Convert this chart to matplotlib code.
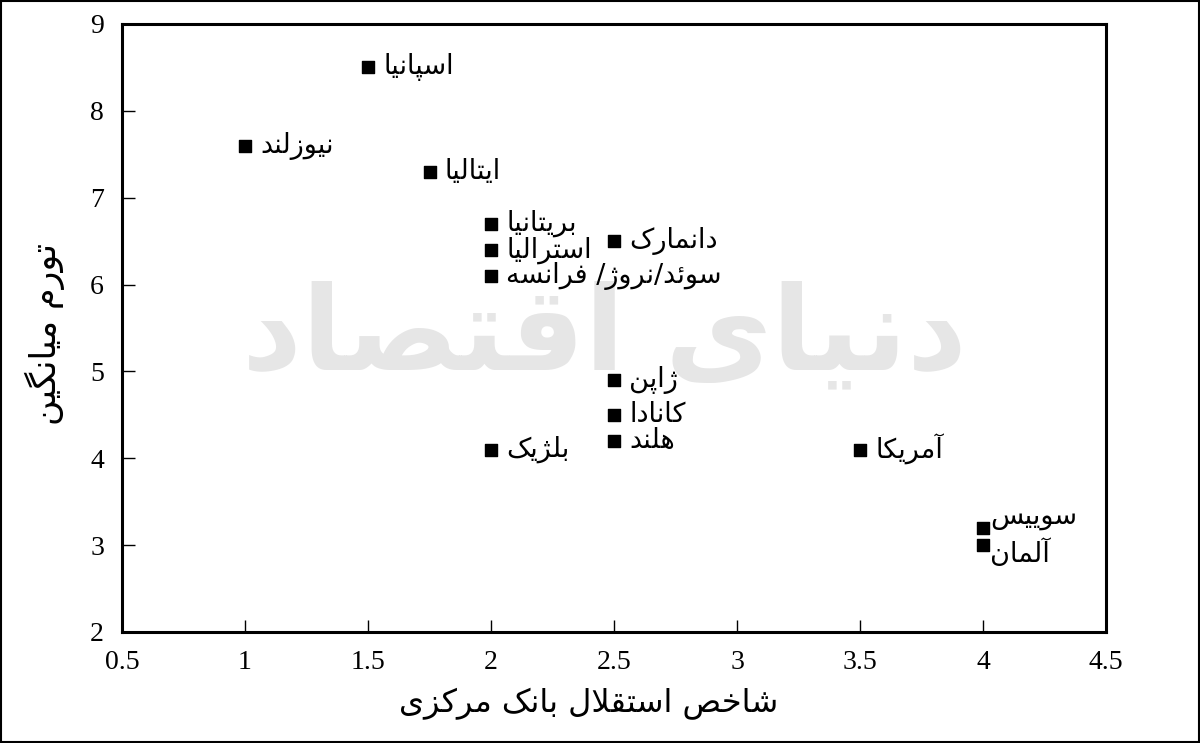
import matplotlib
matplotlib.use("Agg")
import matplotlib.pyplot as plt
from matplotlib.patches import Rectangle

# ---------------- data ----------------
countries = ["اسپانیا", "نیوزلند", "ایتالیا", "بریتانیا", "استرالیا",
             "سوئد/نروژ/ فرانسه", "دانمارک", "ژاپن", "کانادا", "هلند",
             "بلژیک", "آمریکا", "سوییس", "آلمان"]
independence = [1.5, 1.0, 1.75, 2.0, 2.0, 2.0, 2.5, 2.5, 2.5, 2.5, 2.0, 3.5, 4.0, 4.0]
inflation = [8.5, 7.6, 7.3, 6.7, 6.4, 6.1, 6.5, 4.9, 4.5, 4.2, 4.1, 4.1, 3.2, 3.0]
x_ticks = [0.5, 1, 1.5, 2, 2.5, 3, 3.5, 4, 4.5]
x_ticklabels = ["0.5", "1", "1.5", "2", "2.5", "3", "3.5", "4", "4.5"]
y_ticks = [2, 3, 4, 5, 6, 7, 8, 9]
x_label = "شاخص استقلال بانک مرکزی"
y_label = "تورم میانگین"
watermark = "دنیای اقتصاد"

# ---------------- simple Persian shaper ----------------
FORMS = {
    'ا': (0xFE8D, 0xFE8E), 'آ': (0xFE81, 0xFE82),
    'ب': (0xFE8F, 0xFE90, 0xFE91, 0xFE92), 'پ': (0xFB56, 0xFB57, 0xFB58, 0xFB59),
    'ت': (0xFE95, 0xFE96, 0xFE97, 0xFE98), 'ث': (0xFE99, 0xFE9A, 0xFE9B, 0xFE9C),
    'ج': (0xFE9D, 0xFE9E, 0xFE9F, 0xFEA0), 'چ': (0xFB7A, 0xFB7B, 0xFB7C, 0xFB7D),
    'ح': (0xFEA1, 0xFEA2, 0xFEA3, 0xFEA4), 'خ': (0xFEA5, 0xFEA6, 0xFEA7, 0xFEA8),
    'د': (0xFEA9, 0xFEAA), 'ذ': (0xFEAB, 0xFEAC), 'ر': (0xFEAD, 0xFEAE),
    'ز': (0xFEAF, 0xFEB0), 'ژ': (0xFB8A, 0xFB8B),
    'س': (0xFEB1, 0xFEB2, 0xFEB3, 0xFEB4), 'ش': (0xFEB5, 0xFEB6, 0xFEB7, 0xFEB8),
    'ص': (0xFEB9, 0xFEBA, 0xFEBB, 0xFEBC), 'ض': (0xFEBD, 0xFEBE, 0xFEBF, 0xFEC0),
    'ط': (0xFEC1, 0xFEC2, 0xFEC3, 0xFEC4), 'ظ': (0xFEC5, 0xFEC6, 0xFEC7, 0xFEC8),
    'ع': (0xFEC9, 0xFECA, 0xFECB, 0xFECC), 'غ': (0xFECD, 0xFECE, 0xFECF, 0xFED0),
    'ف': (0xFED1, 0xFED2, 0xFED3, 0xFED4), 'ق': (0xFED5, 0xFED6, 0xFED7, 0xFED8),
    'ک': (0xFB8E, 0xFB8F, 0xFB90, 0xFB91), 'گ': (0xFB92, 0xFB93, 0xFB94, 0xFB95),
    'ل': (0xFEDD, 0xFEDE, 0xFEDF, 0xFEE0), 'م': (0xFEE1, 0xFEE2, 0xFEE3, 0xFEE4),
    'ن': (0xFEE5, 0xFEE6, 0xFEE7, 0xFEE8), 'ه': (0xFEE9, 0xFEEA, 0xFEEB, 0xFEEC),
    'و': (0xFEED, 0xFEEE), 'ی': (0xFBFC, 0xFBFD, 0xFBFE, 0xFBFF),
    'ئ': (0xFE89, 0xFE8A, 0xFE8B, 0xFE8C),
}
LAM_ALEF = {'ا': (0xFEFB, 0xFEFC), 'آ': (0xFEF5, 0xFEF6)}


def dual(c):
    return c in FORMS and len(FORMS[c]) == 4


def fa(text):
    out = []
    i = 0
    n = len(text)
    while i < n:
        c = text[i]
        if c not in FORMS:
            out.append(c)
            i += 1
            continue
        prev = text[i - 1] if i > 0 else ''
        nxt = text[i + 1] if i + 1 < n else ''
        pj = dual(prev)
        if c == 'ل' and nxt in LAM_ALEF:
            iso, fin = LAM_ALEF[nxt]
            out.append(chr(fin if pj else iso))
            i += 2
            continue
        nj = dual(c) and nxt in FORMS
        f = FORMS[c]
        if pj and nj:
            code = f[3]
        elif nj:
            code = f[2]
        elif pj:
            code = f[1]
        else:
            code = f[0]
        out.append(chr(code))
        i += 1
    return ''.join(out)[::-1]


# ---------------- plot ----------------
fig = plt.figure(figsize=(12, 7.43), dpi=100)
ax = fig.add_axes([0.1017, 0.1494, 0.8200, 0.8183])

fa_font = ['DejaVu Sans']

# watermark
ax.text(2.46, 5.4, fa(watermark), fontsize=84, color='#e6e6e6', ha='center',
        va='center', family=fa_font, zorder=0, fontweight='bold')

ax.scatter(independence, inflation, marker='s', s=80, color='black', zorder=3)

offsets = {"سوییس": (5, 8), "آلمان": (5, -6)}
for name, x, y in zip(countries, independence, inflation):
    dx, dy = offsets.get(name, (11, 0))
    ax.annotate(fa(name), (x, y), xytext=(dx, dy), textcoords='offset points',
                ha='left', va='center', fontsize=19.5, family=fa_font, zorder=4)

ax.set_xlim(0.5, 4.5)
ax.set_ylim(2, 9)
ax.set_xticks(x_ticks)
ax.set_xticklabels(x_ticklabels)
ax.set_yticks(y_ticks)
ax.tick_params(direction='in', length=9, width=1, labelsize=20, pad=13)
for lbl in ax.get_xticklabels() + ax.get_yticklabels():
    lbl.set_family('Liberation Serif')
for sp in ax.spines.values():
    sp.set_linewidth(2.2)

ax.set_xlabel(fa(x_label), fontsize=23, family=fa_font)
ax.xaxis.set_label_coords(0.474, -0.092)
ax.set_ylabel(fa(y_label), fontsize=25, family=fa_font)
ax.yaxis.set_label_coords(-0.058, 0.49)

fig.patches.append(Rectangle((0.001, 0.001), 0.998, 0.998, transform=fig.transFigure,
                             fill=False, edgecolor='black', linewidth=1.5))

fig.savefig('out.png', dpi=100)
